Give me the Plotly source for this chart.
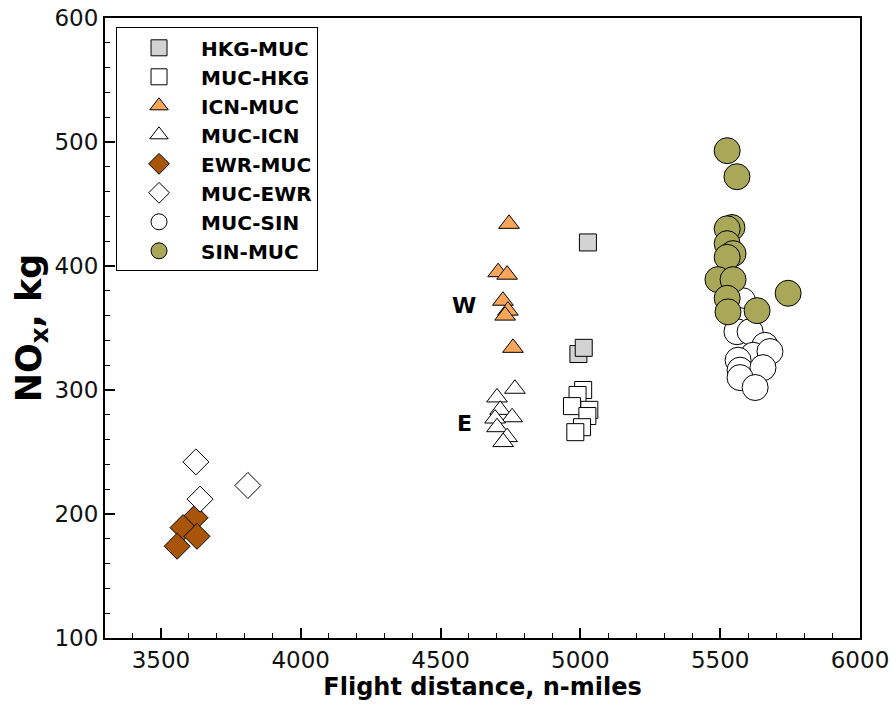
import plotly.graph_objects as go

# ---- data ----
hkg_muc_x = [5027, 4993, 5012]
hkg_muc_y = [419, 329, 334]

muc_hkg_x = [5010, 4990, 4970, 5032, 5025, 5006, 4982]
muc_hkg_y = [300, 296, 287, 284, 279, 270, 266]

icn_muc_x = [4745, 4706, 4738, 4723, 4741, 4731, 4759]
icn_muc_y = [434, 395, 393, 372, 364, 360, 334]

muc_icn_x = [4766, 4702, 4713, 4756, 4695, 4702, 4738, 4724]
muc_icn_y = [301, 294, 284, 278, 277, 270, 262, 258]

ewr_muc_x = [3622, 3579, 3629, 3558]
ewr_muc_y = [197, 189, 182, 174]

muc_ewr_x = [3625, 3640, 3811]
muc_ewr_y = [242, 212, 223]

muc_sin_x = [5580, 5570, 5560, 5607, 5660, 5618, 5678, 5564, 5571, 5653, 5571, 5625]
muc_sin_y = [372, 356, 347, 347, 336, 328, 331, 324, 316, 318, 310, 302]

sin_muc_x = [5525, 5560, 5542, 5525, 5525, 5546, 5525, 5492, 5546, 5525, 5528, 5632, 5743]
sin_muc_y = [493, 472, 431, 430, 418, 410, 407, 389, 389, 374, 363, 364, 378]

series = [
    ("HKG-MUC", hkg_muc_x, hkg_muc_y, "square", "#D3D3D3", 17),
    ("MUC-HKG", muc_hkg_x, muc_hkg_y, "square", "#FFFFFF", 17),
    ("ICN-MUC", icn_muc_x, icn_muc_y, "triangle-up", "#F9A65A", 18),
    ("MUC-ICN", muc_icn_x, muc_icn_y, "triangle-up", "#FFFFFF", 18),
    ("EWR-MUC", ewr_muc_x, ewr_muc_y, "diamond", "#A8550A", 20),
    ("MUC-EWR", muc_ewr_x, muc_ewr_y, "diamond", "#FFFFFF", 20),
    ("MUC-SIN", muc_sin_x, muc_sin_y, "circle", "#FFFFFF", 26),
    ("SIN-MUC", sin_muc_x, sin_muc_y, "circle", "#A8A858", 26),
]

FONT = "DejaVu Sans"

fig = go.Figure()
for i, (name, xs, ys, sym, col, sz) in enumerate(series):
    fig.add_trace(go.Scatter(
        x=xs, y=ys, mode="markers", name="<b>" + name + "</b>",
        marker=dict(symbol=sym, color=col, size=sz,
                    line=dict(color="black", width=1)),
    ))

fig.add_annotation(x=4584, y=368, text="<b>W</b>", showarrow=False,
                   font=dict(size=22, color="black", family=FONT))
fig.add_annotation(x=4584, y=273, text="<b>E</b>", showarrow=False,
                   font=dict(size=22, color="black", family=FONT))

axis_common = dict(
    showline=True, linecolor="black", linewidth=2, mirror=True,
    ticks="inside", ticklen=10, tickwidth=1.5, tickcolor="black",
    showgrid=False, zeroline=False, automargin=False,
    tickfont=dict(size=23, color="#111", family=FONT),
)

fig.update_xaxes(range=[3300, 6000], tick0=3500, dtick=500,
                 minor=dict(ticks="inside", ticklen=5, dtick=100, tick0=3500,
                            tickcolor="black", tickwidth=1),
                 title=dict(text="<b>Flight distance, n-miles</b>",
                            font=dict(size=24, color="black", family=FONT),
                            standoff=6),
                 **axis_common)
fig.update_yaxes(range=[100, 600], tick0=100, dtick=100,
                 minor=dict(ticks="inside", ticklen=5, dtick=20, tick0=100,
                            tickcolor="black", tickwidth=1),
                 title=dict(text="<b>NO<sub>x</sub>, kg</b>",
                            font=dict(size=35, color="black", family=FONT),
                            standoff=2),
                 **axis_common)

fig.update_layout(
    width=896, height=714,
    margin=dict(l=105, r=36, t=18, b=76),
    plot_bgcolor="white", paper_bgcolor="white",
    font=dict(family=FONT, color="black"),
    legend=dict(x=0.0146, y=0.985, xanchor="left", yanchor="top",
                bordercolor="black", borderwidth=1, bgcolor="white",
                font=dict(size=20, color="black", family=FONT),
                itemwidth=74),
    showlegend=True,
)

fig.write_html("out.html")
